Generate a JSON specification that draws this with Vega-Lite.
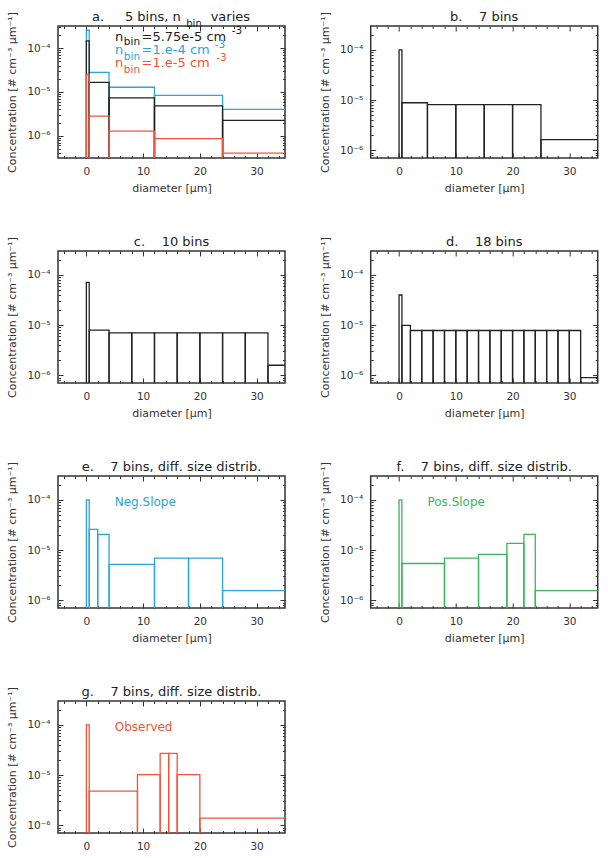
{
  "$schema": "https://vega.github.io/schema/vega-lite/v6.json",
  "padding": {"left": 6, "top": 10, "right": 0, "bottom": 0},
  "columns": 2,
  "spacing": {"row": 93, "column": 85.7},
  "bounds": "flush",
  "config": {
    "font": "DejaVu Sans",
    "view": {"stroke": "#333", "strokeWidth": 1.5},
    "axis": {"domain": false, "grid": false, "labelFont": "DejaVu Sans", "labelFontSize": 10.5, "labelColor": "#333", "titleFont": "DejaVu Sans", "titleFontSize": 11, "titleFontWeight": "normal", "titleColor": "#333", "tickColor": "#333", "tickWidth": 1, "labelOverlap": false, "labelFlush": false, "labelBound": false},
    "title": {"font": "DejaVu Sans", "fontSize": 13, "fontWeight": "normal", "color": "#222", "anchor": "middle", "offset": -12.5, "baseline": "alphabetic"},
    "text": {"font": "DejaVu Sans"}
  },
  "concat": [
    {
      "width": 227, "height": 132,
      "layer": [
        {
          "data": {"values": [
            {"lo": 0, "hi": 0.5, "n": 2.56e-4, "s": "1.e-4"},
            {"lo": 0.5, "hi": 4, "n": 2.8e-5, "s": "1.e-4"},
            {"lo": 4, "hi": 12, "n": 1.28e-5, "s": "1.e-4"},
            {"lo": 12, "hi": 24, "n": 8.3e-6, "s": "1.e-4"},
            {"lo": 24, "hi": 50, "n": 4.0e-6, "s": "1.e-4"},
            {"lo": 0, "hi": 0.5, "n": 1.47e-4, "s": "5.75e-5"},
            {"lo": 0.5, "hi": 4, "n": 1.66e-5, "s": "5.75e-5"},
            {"lo": 4, "hi": 12, "n": 7.3e-6, "s": "5.75e-5"},
            {"lo": 12, "hi": 24, "n": 4.8e-6, "s": "5.75e-5"},
            {"lo": 24, "hi": 50, "n": 2.25e-6, "s": "5.75e-5"},
            {"lo": 0, "hi": 0.5, "n": 2.5e-5, "s": "1.e-5"},
            {"lo": 0.5, "hi": 4, "n": 2.8e-6, "s": "1.e-5"},
            {"lo": 4, "hi": 12, "n": 1.28e-6, "s": "1.e-5"},
            {"lo": 12, "hi": 24, "n": 8.6e-7, "s": "1.e-5"},
            {"lo": 24, "hi": 50, "n": 4.0e-7, "s": "1.e-5"}
          ]},
          "mark": {"type": "rect", "filled": false, "strokeWidth": 1.3, "clip": true},
          "encoding": {
            "x": {"field": "lo", "type": "quantitative", "scale": {"domain": [-5, 35], "nice": false, "zero": false},
              "axis": {"orient": "bottom", "title": "diameter [μm]", "values": [-4,-2,0,2,4,6,8,10,12,14,16,18,20,22,24,26,28,30,32,34], "tickSize": {"condition": {"test": "datum.value % 10 === 0", "value": -5}, "value": -2.5}, "labelExpr": "datum.value % 10 === 0 ? datum.label : ''", "labelPadding": 13, "titlePadding": 3}},
            "x2": {"field": "hi"},
            "y": {"field": "n", "type": "quantitative", "scale": {"type": "log", "domain": [3.1e-7, 3.2e-4], "nice": false},
              "axis": {"orient": "left", "title": "Concentration [# cm⁻³ μm⁻¹]", "values": [4e-7,5e-7,6e-7,7e-7,8e-7,9e-7,1e-6,2e-6,3e-6,4e-6,5e-6,6e-6,7e-6,8e-6,9e-6,1e-5,2e-5,3e-5,4e-5,5e-5,6e-5,7e-5,8e-5,9e-5,1e-4,2e-4,3e-4], "tickSize": {"condition": {"test": "abs(log(datum.value)/LN10 - round(log(datum.value)/LN10)) < 0.01", "value": -5}, "value": -2.5}, "labelExpr": "abs(log(datum.value)/LN10 - round(log(datum.value)/LN10)) < 0.01 ? '10⁻' + ['⁰','¹','²','³','⁴','⁵','⁶','⁷','⁸','⁹'][-round(log(datum.value)/LN10)] : ''", "labelPadding": 13, "titlePadding": 9}},
            "y2": {"datum": 1e-9},
            "color": {"field": "s", "type": "nominal", "scale": {"domain": ["1.e-4", "5.75e-5", "1.e-5"], "range": ["#2aa5dc", "#222222", "#f1543a"]}, "legend": null}
          }
        },
        {
          "data": {"values": [{"lo": 0, "n": 1e-5}]},
          "mark": {"type": "point", "opacity": 0},
          "encoding": {
            "x": {"field": "lo", "type": "quantitative", "scale": {"domain": [-5, 35], "nice": false, "zero": false},
              "axis": {"orient": "top", "title": null, "labels": false, "values": [-4,-2,0,2,4,6,8,10,12,14,16,18,20,22,24,26,28,30,32,34], "tickSize": {"condition": {"test": "datum.value % 10 === 0", "value": -5}, "value": -2.5}}},
            "y": {"field": "n", "type": "quantitative", "scale": {"type": "log", "domain": [3.1e-7, 3.2e-4], "nice": false},
              "axis": {"orient": "right", "title": null, "labels": false, "values": [4e-7,5e-7,6e-7,7e-7,8e-7,9e-7,1e-6,2e-6,3e-6,4e-6,5e-6,6e-6,7e-6,8e-6,9e-6,1e-5,2e-5,3e-5,4e-5,5e-5,6e-5,7e-5,8e-5,9e-5,1e-4,2e-4,3e-4], "tickSize": {"condition": {"test": "abs(log(datum.value)/LN10 - round(log(datum.value)/LN10)) < 0.01", "value": -5}, "value": -2.5}}}
          }
        },
        {
          "data": {"values": [
            {"t": "n", "d": 5.06, "n": 1.46e-4, "s": "5.75e-5"},
            {"t": "=5.75e-5 cm", "d": 9.72, "n": 1.46e-4, "s": "5.75e-5"},
            {"t": "n", "d": 5.06, "n": 7.3e-5, "s": "1.e-4"},
            {"t": "=1.e-4 cm", "d": 9.72, "n": 7.3e-5, "s": "1.e-4"},
            {"t": "n", "d": 5.06, "n": 3.63e-5, "s": "1.e-5"},
            {"t": "=1.e-5 cm", "d": 9.72, "n": 3.63e-5, "s": "1.e-5"}
          ]},
          "mark": {"type": "text", "fontSize": 13, "align": "left", "baseline": "alphabetic"},
          "encoding": {
            "x": {"field": "d", "type": "quantitative", "scale": {"domain": [-5, 35], "nice": false, "zero": false}, "axis": null},
            "y": {"field": "n", "type": "quantitative", "scale": {"type": "log", "domain": [3.1e-7, 3.2e-4], "nice": false}, "axis": null},
            "text": {"field": "t"},
            "color": {"field": "s", "type": "nominal", "scale": {"domain": ["1.e-4", "5.75e-5", "1.e-5"], "range": ["#2aa5dc", "#222222", "#f1543a"]}, "legend": null}
          }
        },
        {
          "data": {"values": [
            {"t": "bin", "d": 6.6, "n": 1.19e-4, "s": "5.75e-5"},
            {"t": "-3", "d": 25.6, "n": 2.07e-4, "s": "5.75e-5"},
            {"t": "bin", "d": 6.6, "n": 5.33e-5, "s": "1.e-4"},
            {"t": "-3", "d": 22.6, "n": 1.03e-4, "s": "1.e-4"},
            {"t": "bin", "d": 6.6, "n": 2.65e-5, "s": "1.e-5"},
            {"t": "-3", "d": 22.9, "n": 5.07e-5, "s": "1.e-5"}
          ]},
          "mark": {"type": "text", "fontSize": 10.5, "align": "left", "baseline": "alphabetic"},
          "encoding": {
            "x": {"field": "d", "type": "quantitative", "scale": {"domain": [-5, 35], "nice": false, "zero": false}, "axis": null},
            "y": {"field": "n", "type": "quantitative", "scale": {"type": "log", "domain": [3.1e-7, 3.2e-4], "nice": false}, "axis": null},
            "text": {"field": "t"},
            "color": {"field": "s", "type": "nominal", "scale": {"domain": ["1.e-4", "5.75e-5", "1.e-5"], "range": ["#2aa5dc", "#222222", "#f1543a"]}, "legend": null}
          }
        },
        {
          "data": {"values": [
            {"t": "a.", "d": 0.99, "n": 4.15e-4},
            {"t": "5 bins, n", "d": 6.8, "n": 4.15e-4},
            {"t": "varies", "d": 21.9, "n": 4.15e-4}
          ]},
          "mark": {"type": "text", "fontSize": 13, "align": "left", "baseline": "alphabetic", "color": "#222"},
          "encoding": {
            "x": {"field": "d", "type": "quantitative", "scale": {"domain": [-5, 35], "nice": false, "zero": false}, "axis": null},
            "y": {"field": "n", "type": "quantitative", "scale": {"type": "log", "domain": [3.1e-7, 3.2e-4], "nice": false}, "axis": null},
            "text": {"field": "t"}
          }
        },
        {
          "data": {"values": [
            {"t": "bin", "d": 17.6, "n": 3.04e-4}
          ]},
          "mark": {"type": "text", "fontSize": 10, "align": "left", "baseline": "alphabetic", "color": "#222"},
          "encoding": {
            "x": {"field": "d", "type": "quantitative", "scale": {"domain": [-5, 35], "nice": false, "zero": false}, "axis": null},
            "y": {"field": "n", "type": "quantitative", "scale": {"type": "log", "domain": [3.1e-7, 3.2e-4], "nice": false}, "axis": null},
            "text": {"field": "t"}
          }
        }
      ],
      "resolve": {"axis": {"x": "independent", "y": "independent"}}
    },
    {
      "width": 227, "height": 132,
      "title": {"text": "b.\u00a0\u00a0\u00a0\u00a07 bins"},
      "data": {"values": [
        {"lo": 0, "hi": 0.5, "n": 1.0e-4},
        {"lo": 0.5, "hi": 5, "n": 8.85e-6},
        {"lo": 5, "hi": 10, "n": 8.1e-6},
        {"lo": 10, "hi": 15, "n": 8.1e-6},
        {"lo": 15, "hi": 20, "n": 8.1e-6},
        {"lo": 20, "hi": 25, "n": 8.1e-6},
        {"lo": 25, "hi": 50, "n": 1.63e-6}
      ]},
      "layer": [
        {
          "mark": {"type": "rect", "filled": false, "stroke": "#222", "strokeWidth": 1.3, "clip": true},
          "encoding": {
            "x": {"field": "lo", "type": "quantitative", "scale": {"domain": [-5, 35], "nice": false, "zero": false},
              "axis": {"orient": "bottom", "title": "diameter [μm]", "values": [-4,-2,0,2,4,6,8,10,12,14,16,18,20,22,24,26,28,30,32,34], "tickSize": {"condition": {"test": "datum.value % 10 === 0", "value": -5}, "value": -2.5}, "labelExpr": "datum.value % 10 === 0 ? datum.label : ''", "labelPadding": 13, "titlePadding": 3}},
            "x2": {"field": "hi"},
            "y": {"field": "n", "type": "quantitative", "scale": {"type": "log", "domain": [7e-7, 3e-4], "nice": false},
              "axis": {"orient": "left", "title": "Concentration [# cm⁻³ μm⁻¹]", "values": [8e-7,9e-7,1e-6,2e-6,3e-6,4e-6,5e-6,6e-6,7e-6,8e-6,9e-6,1e-5,2e-5,3e-5,4e-5,5e-5,6e-5,7e-5,8e-5,9e-5,1e-4,2e-4], "tickSize": {"condition": {"test": "abs(log(datum.value)/LN10 - round(log(datum.value)/LN10)) < 0.01", "value": -5}, "value": -2.5}, "labelExpr": "abs(log(datum.value)/LN10 - round(log(datum.value)/LN10)) < 0.01 ? '10⁻' + ['⁰','¹','²','³','⁴','⁵','⁶','⁷','⁸','⁹'][-round(log(datum.value)/LN10)] : ''", "labelPadding": 13, "titlePadding": 9}},
            "y2": {"datum": 1e-9}
          }
        },
        {
          "mark": {"type": "point", "opacity": 0},
          "encoding": {
            "x": {"field": "lo", "type": "quantitative", "scale": {"domain": [-5, 35], "nice": false, "zero": false},
              "axis": {"orient": "top", "title": null, "labels": false, "values": [-4,-2,0,2,4,6,8,10,12,14,16,18,20,22,24,26,28,30,32,34], "tickSize": {"condition": {"test": "datum.value % 10 === 0", "value": -5}, "value": -2.5}}},
            "y": {"field": "n", "type": "quantitative", "scale": {"type": "log", "domain": [7e-7, 3e-4], "nice": false},
              "axis": {"orient": "right", "title": null, "labels": false, "values": [8e-7,9e-7,1e-6,2e-6,3e-6,4e-6,5e-6,6e-6,7e-6,8e-6,9e-6,1e-5,2e-5,3e-5,4e-5,5e-5,6e-5,7e-5,8e-5,9e-5,1e-4,2e-4], "tickSize": {"condition": {"test": "abs(log(datum.value)/LN10 - round(log(datum.value)/LN10)) < 0.01", "value": -5}, "value": -2.5}}}
          }
        }
      ],
      "resolve": {"axis": {"x": "independent", "y": "independent"}}
    },
    {
      "width": 227, "height": 132,
      "title": {"text": "c.\u00a0\u00a0\u00a0\u00a010 bins"},
      "data": {"values": [
        {"lo": 0, "hi": 0.5, "n": 7.1e-5},
        {"lo": 0.5, "hi": 4, "n": 7.9e-6},
        {"lo": 4, "hi": 8, "n": 7.0e-6},
        {"lo": 8, "hi": 12, "n": 7.0e-6},
        {"lo": 12, "hi": 16, "n": 7.0e-6},
        {"lo": 16, "hi": 20, "n": 7.0e-6},
        {"lo": 20, "hi": 24, "n": 7.0e-6},
        {"lo": 24, "hi": 28, "n": 7.0e-6},
        {"lo": 28, "hi": 32, "n": 7.0e-6},
        {"lo": 32, "hi": 50, "n": 1.58e-6}
      ]},
      "layer": [
        {
          "mark": {"type": "rect", "filled": false, "stroke": "#222", "strokeWidth": 1.3, "clip": true},
          "encoding": {
            "x": {"field": "lo", "type": "quantitative", "scale": {"domain": [-5, 35], "nice": false, "zero": false},
              "axis": {"orient": "bottom", "title": "diameter [μm]", "values": [-4,-2,0,2,4,6,8,10,12,14,16,18,20,22,24,26,28,30,32,34], "tickSize": {"condition": {"test": "datum.value % 10 === 0", "value": -5}, "value": -2.5}, "labelExpr": "datum.value % 10 === 0 ? datum.label : ''", "labelPadding": 13, "titlePadding": 3}},
            "x2": {"field": "hi"},
            "y": {"field": "n", "type": "quantitative", "scale": {"type": "log", "domain": [7e-7, 3e-4], "nice": false},
              "axis": {"orient": "left", "title": "Concentration [# cm⁻³ μm⁻¹]", "values": [8e-7,9e-7,1e-6,2e-6,3e-6,4e-6,5e-6,6e-6,7e-6,8e-6,9e-6,1e-5,2e-5,3e-5,4e-5,5e-5,6e-5,7e-5,8e-5,9e-5,1e-4,2e-4], "tickSize": {"condition": {"test": "abs(log(datum.value)/LN10 - round(log(datum.value)/LN10)) < 0.01", "value": -5}, "value": -2.5}, "labelExpr": "abs(log(datum.value)/LN10 - round(log(datum.value)/LN10)) < 0.01 ? '10⁻' + ['⁰','¹','²','³','⁴','⁵','⁶','⁷','⁸','⁹'][-round(log(datum.value)/LN10)] : ''", "labelPadding": 13, "titlePadding": 9}},
            "y2": {"datum": 1e-9}
          }
        },
        {
          "mark": {"type": "point", "opacity": 0},
          "encoding": {
            "x": {"field": "lo", "type": "quantitative", "scale": {"domain": [-5, 35], "nice": false, "zero": false},
              "axis": {"orient": "top", "title": null, "labels": false, "values": [-4,-2,0,2,4,6,8,10,12,14,16,18,20,22,24,26,28,30,32,34], "tickSize": {"condition": {"test": "datum.value % 10 === 0", "value": -5}, "value": -2.5}}},
            "y": {"field": "n", "type": "quantitative", "scale": {"type": "log", "domain": [7e-7, 3e-4], "nice": false},
              "axis": {"orient": "right", "title": null, "labels": false, "values": [8e-7,9e-7,1e-6,2e-6,3e-6,4e-6,5e-6,6e-6,7e-6,8e-6,9e-6,1e-5,2e-5,3e-5,4e-5,5e-5,6e-5,7e-5,8e-5,9e-5,1e-4,2e-4], "tickSize": {"condition": {"test": "abs(log(datum.value)/LN10 - round(log(datum.value)/LN10)) < 0.01", "value": -5}, "value": -2.5}}}
          }
        }
      ],
      "resolve": {"axis": {"x": "independent", "y": "independent"}}
    },
    {
      "width": 227, "height": 132,
      "title": {"text": "d.\u00a0\u00a0\u00a0\u00a018 bins"},
      "data": {"values": [
        {"lo": 0, "hi": 0.5, "n": 3.98e-5},
        {"lo": 0.5, "hi": 2, "n": 9.85e-6},
        {"lo": 2, "hi": 4, "n": 7.8e-6},
        {"lo": 4, "hi": 6, "n": 7.8e-6},
        {"lo": 6, "hi": 8, "n": 7.8e-6},
        {"lo": 8, "hi": 10, "n": 7.8e-6},
        {"lo": 10, "hi": 12, "n": 7.8e-6},
        {"lo": 12, "hi": 14, "n": 7.8e-6},
        {"lo": 14, "hi": 16, "n": 7.8e-6},
        {"lo": 16, "hi": 18, "n": 7.8e-6},
        {"lo": 18, "hi": 20, "n": 7.8e-6},
        {"lo": 20, "hi": 22, "n": 7.8e-6},
        {"lo": 22, "hi": 24, "n": 7.8e-6},
        {"lo": 24, "hi": 26, "n": 7.8e-6},
        {"lo": 26, "hi": 28, "n": 7.8e-6},
        {"lo": 28, "hi": 30, "n": 7.8e-6},
        {"lo": 30, "hi": 32, "n": 7.8e-6},
        {"lo": 32, "hi": 50, "n": 9.0e-7}
      ]},
      "layer": [
        {
          "mark": {"type": "rect", "filled": false, "stroke": "#222", "strokeWidth": 1.3, "clip": true},
          "encoding": {
            "x": {"field": "lo", "type": "quantitative", "scale": {"domain": [-5, 35], "nice": false, "zero": false},
              "axis": {"orient": "bottom", "title": "diameter [μm]", "values": [-4,-2,0,2,4,6,8,10,12,14,16,18,20,22,24,26,28,30,32,34], "tickSize": {"condition": {"test": "datum.value % 10 === 0", "value": -5}, "value": -2.5}, "labelExpr": "datum.value % 10 === 0 ? datum.label : ''", "labelPadding": 13, "titlePadding": 3}},
            "x2": {"field": "hi"},
            "y": {"field": "n", "type": "quantitative", "scale": {"type": "log", "domain": [7e-7, 3e-4], "nice": false},
              "axis": {"orient": "left", "title": "Concentration [# cm⁻³ μm⁻¹]", "values": [8e-7,9e-7,1e-6,2e-6,3e-6,4e-6,5e-6,6e-6,7e-6,8e-6,9e-6,1e-5,2e-5,3e-5,4e-5,5e-5,6e-5,7e-5,8e-5,9e-5,1e-4,2e-4], "tickSize": {"condition": {"test": "abs(log(datum.value)/LN10 - round(log(datum.value)/LN10)) < 0.01", "value": -5}, "value": -2.5}, "labelExpr": "abs(log(datum.value)/LN10 - round(log(datum.value)/LN10)) < 0.01 ? '10⁻' + ['⁰','¹','²','³','⁴','⁵','⁶','⁷','⁸','⁹'][-round(log(datum.value)/LN10)] : ''", "labelPadding": 13, "titlePadding": 9}},
            "y2": {"datum": 1e-9}
          }
        },
        {
          "mark": {"type": "point", "opacity": 0},
          "encoding": {
            "x": {"field": "lo", "type": "quantitative", "scale": {"domain": [-5, 35], "nice": false, "zero": false},
              "axis": {"orient": "top", "title": null, "labels": false, "values": [-4,-2,0,2,4,6,8,10,12,14,16,18,20,22,24,26,28,30,32,34], "tickSize": {"condition": {"test": "datum.value % 10 === 0", "value": -5}, "value": -2.5}}},
            "y": {"field": "n", "type": "quantitative", "scale": {"type": "log", "domain": [7e-7, 3e-4], "nice": false},
              "axis": {"orient": "right", "title": null, "labels": false, "values": [8e-7,9e-7,1e-6,2e-6,3e-6,4e-6,5e-6,6e-6,7e-6,8e-6,9e-6,1e-5,2e-5,3e-5,4e-5,5e-5,6e-5,7e-5,8e-5,9e-5,1e-4,2e-4], "tickSize": {"condition": {"test": "abs(log(datum.value)/LN10 - round(log(datum.value)/LN10)) < 0.01", "value": -5}, "value": -2.5}}}
          }
        }
      ],
      "resolve": {"axis": {"x": "independent", "y": "independent"}}
    },
    {
      "width": 227, "height": 132,
      "title": {"text": "e.\u00a0\u00a0\u00a0\u00a07 bins, diff. size distrib."},
      "data": {"values": [
        {"lo": 0, "hi": 0.5, "n": 1.0e-4},
        {"lo": 0.5, "hi": 2, "n": 2.59e-5},
        {"lo": 2, "hi": 4, "n": 2.06e-5},
        {"lo": 4, "hi": 12, "n": 5.17e-6},
        {"lo": 12, "hi": 18, "n": 6.9e-6},
        {"lo": 18, "hi": 24, "n": 6.9e-6},
        {"lo": 24, "hi": 50, "n": 1.56e-6}
      ]},
      "layer": [
        {
          "mark": {"type": "rect", "filled": false, "stroke": "#2aa5dc", "strokeWidth": 1.3, "clip": true},
          "encoding": {
            "x": {"field": "lo", "type": "quantitative", "scale": {"domain": [-5, 35], "nice": false, "zero": false},
              "axis": {"orient": "bottom", "title": "diameter [μm]", "values": [-4,-2,0,2,4,6,8,10,12,14,16,18,20,22,24,26,28,30,32,34], "tickSize": {"condition": {"test": "datum.value % 10 === 0", "value": -5}, "value": -2.5}, "labelExpr": "datum.value % 10 === 0 ? datum.label : ''", "labelPadding": 13, "titlePadding": 3}},
            "x2": {"field": "hi"},
            "y": {"field": "n", "type": "quantitative", "scale": {"type": "log", "domain": [7e-7, 3e-4], "nice": false},
              "axis": {"orient": "left", "title": "Concentration [# cm⁻³ μm⁻¹]", "values": [8e-7,9e-7,1e-6,2e-6,3e-6,4e-6,5e-6,6e-6,7e-6,8e-6,9e-6,1e-5,2e-5,3e-5,4e-5,5e-5,6e-5,7e-5,8e-5,9e-5,1e-4,2e-4], "tickSize": {"condition": {"test": "abs(log(datum.value)/LN10 - round(log(datum.value)/LN10)) < 0.01", "value": -5}, "value": -2.5}, "labelExpr": "abs(log(datum.value)/LN10 - round(log(datum.value)/LN10)) < 0.01 ? '10⁻' + ['⁰','¹','²','³','⁴','⁵','⁶','⁷','⁸','⁹'][-round(log(datum.value)/LN10)] : ''", "labelPadding": 13, "titlePadding": 9}},
            "y2": {"datum": 1e-9}
          }
        },
        {
          "mark": {"type": "point", "opacity": 0},
          "encoding": {
            "x": {"field": "lo", "type": "quantitative", "scale": {"domain": [-5, 35], "nice": false, "zero": false},
              "axis": {"orient": "top", "title": null, "labels": false, "values": [-4,-2,0,2,4,6,8,10,12,14,16,18,20,22,24,26,28,30,32,34], "tickSize": {"condition": {"test": "datum.value % 10 === 0", "value": -5}, "value": -2.5}}},
            "y": {"field": "n", "type": "quantitative", "scale": {"type": "log", "domain": [7e-7, 3e-4], "nice": false},
              "axis": {"orient": "right", "title": null, "labels": false, "values": [8e-7,9e-7,1e-6,2e-6,3e-6,4e-6,5e-6,6e-6,7e-6,8e-6,9e-6,1e-5,2e-5,3e-5,4e-5,5e-5,6e-5,7e-5,8e-5,9e-5,1e-4,2e-4], "tickSize": {"condition": {"test": "abs(log(datum.value)/LN10 - round(log(datum.value)/LN10)) < 0.01", "value": -5}, "value": -2.5}}}
          }
        },
        {
          "data": {"values": [{"t": "Neg.Slope", "d": 5.0, "n": 7.6e-5}]},
          "mark": {"type": "text", "fontSize": 12, "align": "left", "baseline": "alphabetic", "color": "#2aa5dc"},
          "encoding": {
            "x": {"field": "d", "type": "quantitative", "scale": {"domain": [-5, 35], "nice": false, "zero": false}, "axis": null},
            "y": {"field": "n", "type": "quantitative", "scale": {"type": "log", "domain": [7e-7, 3e-4], "nice": false}, "axis": null},
            "text": {"field": "t"}
          }
        }
      ],
      "resolve": {"axis": {"x": "independent", "y": "independent"}}
    },
    {
      "width": 227, "height": 132,
      "title": {"text": "f.\u00a0\u00a0\u00a0\u00a07 bins, diff. size distrib."},
      "data": {"values": [
        {"lo": 0, "hi": 0.5, "n": 1.0e-4},
        {"lo": 0.5, "hi": 8, "n": 5.4e-6},
        {"lo": 8, "hi": 14, "n": 6.9e-6},
        {"lo": 14, "hi": 19, "n": 8.2e-6},
        {"lo": 19, "hi": 22, "n": 1.36e-5},
        {"lo": 22, "hi": 24, "n": 2.06e-5},
        {"lo": 24, "hi": 50, "n": 1.56e-6}
      ]},
      "layer": [
        {
          "mark": {"type": "rect", "filled": false, "stroke": "#3bb55a", "strokeWidth": 1.3, "clip": true},
          "encoding": {
            "x": {"field": "lo", "type": "quantitative", "scale": {"domain": [-5, 35], "nice": false, "zero": false},
              "axis": {"orient": "bottom", "title": "diameter [μm]", "values": [-4,-2,0,2,4,6,8,10,12,14,16,18,20,22,24,26,28,30,32,34], "tickSize": {"condition": {"test": "datum.value % 10 === 0", "value": -5}, "value": -2.5}, "labelExpr": "datum.value % 10 === 0 ? datum.label : ''", "labelPadding": 13, "titlePadding": 3}},
            "x2": {"field": "hi"},
            "y": {"field": "n", "type": "quantitative", "scale": {"type": "log", "domain": [7e-7, 3e-4], "nice": false},
              "axis": {"orient": "left", "title": "Concentration [# cm⁻³ μm⁻¹]", "values": [8e-7,9e-7,1e-6,2e-6,3e-6,4e-6,5e-6,6e-6,7e-6,8e-6,9e-6,1e-5,2e-5,3e-5,4e-5,5e-5,6e-5,7e-5,8e-5,9e-5,1e-4,2e-4], "tickSize": {"condition": {"test": "abs(log(datum.value)/LN10 - round(log(datum.value)/LN10)) < 0.01", "value": -5}, "value": -2.5}, "labelExpr": "abs(log(datum.value)/LN10 - round(log(datum.value)/LN10)) < 0.01 ? '10⁻' + ['⁰','¹','²','³','⁴','⁵','⁶','⁷','⁸','⁹'][-round(log(datum.value)/LN10)] : ''", "labelPadding": 13, "titlePadding": 9}},
            "y2": {"datum": 1e-9}
          }
        },
        {
          "mark": {"type": "point", "opacity": 0},
          "encoding": {
            "x": {"field": "lo", "type": "quantitative", "scale": {"domain": [-5, 35], "nice": false, "zero": false},
              "axis": {"orient": "top", "title": null, "labels": false, "values": [-4,-2,0,2,4,6,8,10,12,14,16,18,20,22,24,26,28,30,32,34], "tickSize": {"condition": {"test": "datum.value % 10 === 0", "value": -5}, "value": -2.5}}},
            "y": {"field": "n", "type": "quantitative", "scale": {"type": "log", "domain": [7e-7, 3e-4], "nice": false},
              "axis": {"orient": "right", "title": null, "labels": false, "values": [8e-7,9e-7,1e-6,2e-6,3e-6,4e-6,5e-6,6e-6,7e-6,8e-6,9e-6,1e-5,2e-5,3e-5,4e-5,5e-5,6e-5,7e-5,8e-5,9e-5,1e-4,2e-4], "tickSize": {"condition": {"test": "abs(log(datum.value)/LN10 - round(log(datum.value)/LN10)) < 0.01", "value": -5}, "value": -2.5}}}
          }
        },
        {
          "data": {"values": [{"t": "Pos.Slope", "d": 5.0, "n": 7.6e-5}]},
          "mark": {"type": "text", "fontSize": 12, "align": "left", "baseline": "alphabetic", "color": "#3bb55a"},
          "encoding": {
            "x": {"field": "d", "type": "quantitative", "scale": {"domain": [-5, 35], "nice": false, "zero": false}, "axis": null},
            "y": {"field": "n", "type": "quantitative", "scale": {"type": "log", "domain": [7e-7, 3e-4], "nice": false}, "axis": null},
            "text": {"field": "t"}
          }
        }
      ],
      "resolve": {"axis": {"x": "independent", "y": "independent"}}
    },
    {
      "width": 227, "height": 132,
      "title": {"text": "g.\u00a0\u00a0\u00a0\u00a07 bins, diff. size distrib."},
      "data": {"values": [
        {"lo": 0, "hi": 0.5, "n": 1.0e-4},
        {"lo": 0.5, "hi": 9, "n": 4.8e-6},
        {"lo": 9, "hi": 13, "n": 1.02e-5},
        {"lo": 13, "hi": 14.5, "n": 2.71e-5},
        {"lo": 14.5, "hi": 16, "n": 2.71e-5},
        {"lo": 16, "hi": 20, "n": 1.02e-5},
        {"lo": 20, "hi": 50, "n": 1.38e-6}
      ]},
      "layer": [
        {
          "mark": {"type": "rect", "filled": false, "stroke": "#f1543a", "strokeWidth": 1.3, "clip": true},
          "encoding": {
            "x": {"field": "lo", "type": "quantitative", "scale": {"domain": [-5, 35], "nice": false, "zero": false},
              "axis": {"orient": "bottom", "title": "diameter [μm]", "values": [-4,-2,0,2,4,6,8,10,12,14,16,18,20,22,24,26,28,30,32,34], "tickSize": {"condition": {"test": "datum.value % 10 === 0", "value": -5}, "value": -2.5}, "labelExpr": "datum.value % 10 === 0 ? datum.label : ''", "labelPadding": 13, "titlePadding": 3}},
            "x2": {"field": "hi"},
            "y": {"field": "n", "type": "quantitative", "scale": {"type": "log", "domain": [7e-7, 3e-4], "nice": false},
              "axis": {"orient": "left", "title": "Concentration [# cm⁻³ μm⁻¹]", "values": [8e-7,9e-7,1e-6,2e-6,3e-6,4e-6,5e-6,6e-6,7e-6,8e-6,9e-6,1e-5,2e-5,3e-5,4e-5,5e-5,6e-5,7e-5,8e-5,9e-5,1e-4,2e-4], "tickSize": {"condition": {"test": "abs(log(datum.value)/LN10 - round(log(datum.value)/LN10)) < 0.01", "value": -5}, "value": -2.5}, "labelExpr": "abs(log(datum.value)/LN10 - round(log(datum.value)/LN10)) < 0.01 ? '10⁻' + ['⁰','¹','²','³','⁴','⁵','⁶','⁷','⁸','⁹'][-round(log(datum.value)/LN10)] : ''", "labelPadding": 13, "titlePadding": 9}},
            "y2": {"datum": 1e-9}
          }
        },
        {
          "mark": {"type": "point", "opacity": 0},
          "encoding": {
            "x": {"field": "lo", "type": "quantitative", "scale": {"domain": [-5, 35], "nice": false, "zero": false},
              "axis": {"orient": "top", "title": null, "labels": false, "values": [-4,-2,0,2,4,6,8,10,12,14,16,18,20,22,24,26,28,30,32,34], "tickSize": {"condition": {"test": "datum.value % 10 === 0", "value": -5}, "value": -2.5}}},
            "y": {"field": "n", "type": "quantitative", "scale": {"type": "log", "domain": [7e-7, 3e-4], "nice": false},
              "axis": {"orient": "right", "title": null, "labels": false, "values": [8e-7,9e-7,1e-6,2e-6,3e-6,4e-6,5e-6,6e-6,7e-6,8e-6,9e-6,1e-5,2e-5,3e-5,4e-5,5e-5,6e-5,7e-5,8e-5,9e-5,1e-4,2e-4], "tickSize": {"condition": {"test": "abs(log(datum.value)/LN10 - round(log(datum.value)/LN10)) < 0.01", "value": -5}, "value": -2.5}}}
          }
        },
        {
          "data": {"values": [{"t": "Observed", "d": 5.0, "n": 7.6e-5}]},
          "mark": {"type": "text", "fontSize": 12, "align": "left", "baseline": "alphabetic", "color": "#f1543a"},
          "encoding": {
            "x": {"field": "d", "type": "quantitative", "scale": {"domain": [-5, 35], "nice": false, "zero": false}, "axis": null},
            "y": {"field": "n", "type": "quantitative", "scale": {"type": "log", "domain": [7e-7, 3e-4], "nice": false}, "axis": null},
            "text": {"field": "t"}
          }
        }
      ],
      "resolve": {"axis": {"x": "independent", "y": "independent"}}
    }
  ]
}
